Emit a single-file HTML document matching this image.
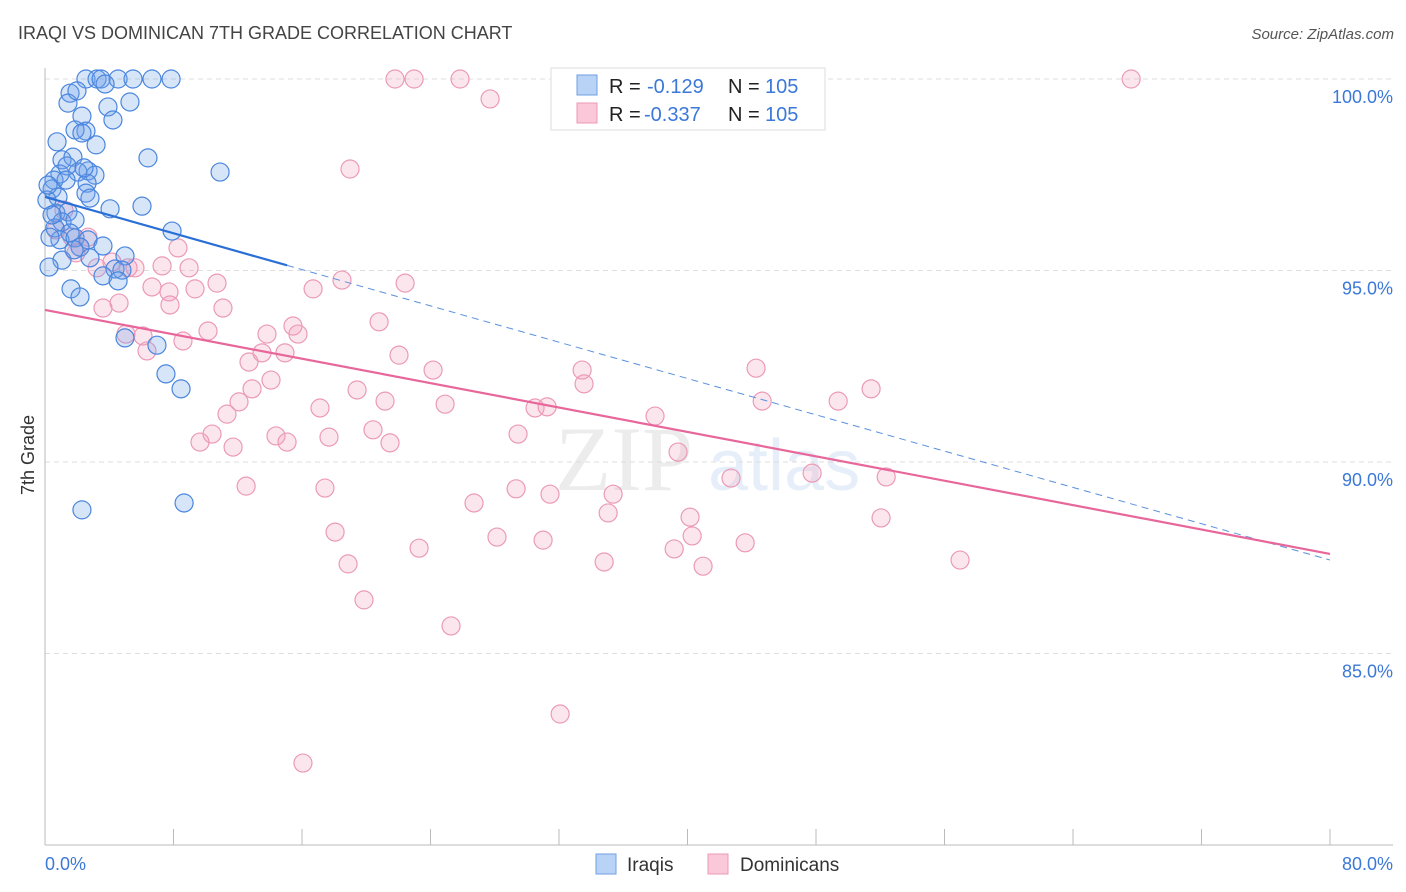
<!DOCTYPE html>
<html><head><meta charset="utf-8"><style>
body{margin:0;background:#fff;font-family:"Liberation Sans",sans-serif}
svg{display:block}
</style></head><body>
<svg id="chart" width="1406" height="892" xmlns="http://www.w3.org/2000/svg" font-family="Liberation Sans, sans-serif">
<text x="18" y="39" font-size="18" fill="#444">IRAQI VS DOMINICAN 7TH GRADE CORRELATION CHART</text>
<text x="1394" y="39" font-size="15" fill="#555" font-style="italic" text-anchor="end">Source: ZipAtlas.com</text>
<g opacity="0.18">
<text x="555" y="490" font-size="92" font-family="Liberation Serif, serif" fill="#999">ZIP</text>
<text x="708" y="490" font-size="72" fill="#7aa8e0">atlas</text>
</g>
<g id="grid"></g>
<g id="axes"></g>
<g id="pinkpts"></g>
<g id="bluepts"></g>
<g id="trends"></g>
<text transform="translate(34,455) rotate(-90)" font-size="18" fill="#333" text-anchor="middle">7th Grade</text>
<g>
<rect x="551" y="68" width="274" height="62" fill="#fff" stroke="#ddd"/>
<rect x="577" y="75" width="20" height="20" fill="#b9d3f7" stroke="#6f9fe0"/>
<rect x="577" y="103" width="20" height="20" fill="#fac8d8" stroke="#ec9ab6"/>
<text x="609" y="93" font-size="20" fill="#222">R = </text><text x="647" y="93" font-size="20" fill="#3b78d8">-0.129</text>
<text x="728" y="93" font-size="20" fill="#222">N = </text><text x="765" y="93" font-size="20" fill="#3b78d8">105</text>
<text x="609" y="121" font-size="20" fill="#222">R = </text><text x="644" y="121" font-size="20" fill="#3b78d8">-0.337</text>
<text x="728" y="121" font-size="20" fill="#222">N = </text><text x="765" y="121" font-size="20" fill="#3b78d8">105</text>
</g>
<g>
<rect x="596" y="854" width="20" height="20" fill="#b9d3f7" stroke="#6f9fe0"/>
<text x="627" y="871" font-size="19" fill="#333">Iraqis</text>
<rect x="708" y="854" width="20" height="20" fill="#fac8d8" stroke="#ec9ab6"/>
<text x="740" y="871" font-size="19" fill="#333">Dominicans</text>
</g>
</svg>
<script>
const yTicks=[100,95,90,85];
const yTickLabels=["100.0%","95.0%","90.0%","85.0%"];
const xTickLabels=["0.0%","80.0%"];
const iraqiX=[2.55,3.24,3.49,4.55,5.48,6.66,7.85,3.74,1.56,1.43,1.99,3.92,5.29,2.30,4.23,2.55,1.87,2.30,3.18,0.75,1.06,1.74,2.68,2.05,0.93,3.11,1.37,6.41,10.90,0.56,2.62,0.44,2.55,0.81,2.80,4.05,6.04,0.68,1.43,1.06,1.87,0.62,1.56,0.93,1.87,0.31,2.68,7.91,3.61,2.18,1.06,2.80,4.98,0.25,4.36,4.79,3.61,4.55,1.62,2.18,4.98,6.97,7.53,8.47,2.30,8.66,0.12,0.19,0.44,1.31,2.43,1.81];
const iraqiY=[100,100,100,100,100,100,100,99.87,99.63,99.37,99.69,99.27,99.40,99.03,98.93,98.64,98.67,98.59,98.28,98.36,97.89,97.96,97.60,97.57,97.52,97.49,97.73,97.94,97.57,97.36,97.28,97.13,97.02,96.92,96.89,96.61,96.68,96.50,96.53,96.27,96.32,96.11,95.98,95.80,95.85,95.87,95.80,96.03,95.64,95.61,95.27,95.33,95.38,95.09,95.04,95.01,94.86,94.73,94.52,94.31,93.24,93.05,92.30,91.91,88.75,88.93,96.84,97.23,96.45,97.36,97.68,95.54];
const domX=[21.79,22.98,25.84,32.50,67.62,27.71,18.99,1.18,0.68,1.68,2.68,2.18,1.93,8.28,3.24,5.60,7.29,8.97,4.17,5.17,10.71,6.66,7.72,9.34,16.69,18.49,22.42,4.61,3.61,7.78,11.08,5.04,6.10,10.15,13.82,15.44,15.75,6.35,8.59,13.51,14.94,20.80,22.04,12.70,14.07,12.89,24.16,33.44,33.56,44.27,19.43,21.17,24.91,51.43,17.12,30.51,31.26,44.65,49.38,12.08,11.33,10.40,9.65,11.71,14.38,15.07,17.68,20.42,21.48,29.45,37.98,39.41,42.71,47.76,52.37,12.52,17.43,26.71,29.33,31.44,35.37,35.06,40.16,52.05,18.06,23.29,28.14,31.01,39.17,40.29,43.59,18.87,34.81,40.97,56.97,19.86,25.28,32.07,16.06];
const domY=[100,100,100,100,100,99.48,97.65,96.58,96.06,95.87,95.87,95.61,95.46,95.59,95.07,95.07,95.12,95.07,95.22,95.07,94.67,94.57,94.44,94.52,94.52,94.75,94.67,94.15,94.02,94.10,94.02,93.34,93.29,93.42,93.34,93.55,93.34,92.90,93.16,92.85,92.85,93.66,92.79,92.61,92.14,91.91,92.40,92.40,92.04,92.45,91.88,91.59,91.51,91.91,91.41,91.41,91.44,91.59,91.59,91.57,91.25,90.73,90.52,90.39,90.68,90.52,90.65,90.84,90.50,90.73,91.20,90.26,89.58,89.71,89.61,89.37,89.32,88.93,89.30,89.16,89.16,88.67,88.56,88.54,88.17,87.75,88.04,87.96,87.73,88.07,87.89,87.34,87.39,87.28,87.44,86.40,85.72,83.42,82.14];
const iraqiTrend=[96.92,87.44]; // y at x=0 and x=80
const iraqiSolidEnd=[15.07];
const domTrend=[93.97,87.60];

const NS="http://www.w3.org/2000/svg";
const X0=45,X1=1330,Ytop=79,Ybot=845;
function sx(v){return X0+(v/80)*(X1-X0);}
function sy(v){return Ytop+(100-v)/20*(Ybot-Ytop);}
function mk(tag,attrs,parent){const e=document.createElementNS(NS,tag);for(const k in attrs)e.setAttribute(k,attrs[k]);parent.appendChild(e);return e;}
const grid=document.getElementById('grid'),axes=document.getElementById('axes');
yTicks.forEach((t,i)=>{
  const l=mk('line',{x1:X0,x2:1393,y1:sy(t),y2:sy(t),stroke:'#ddd','stroke-dasharray':'5,4'},grid);
  
  
  const tx=mk('text',{x:1393,y:sy(t)+24,'font-size':18,fill:'#3b78d8','text-anchor':'end'},axes);
  tx.textContent=yTickLabels[i];
  
  
});
mk('line',{x1:X0,x2:X0,y1:68,y2:Ybot,stroke:'#bbb'},axes);
mk('line',{x1:X0,x2:1393,y1:Ybot,y2:Ybot,stroke:'#bbb'},axes);
for(let i=0;i<=10;i++){const x=sx(i*8);mk('line',{x1:x,x2:x,y1:829,y2:Ybot,stroke:'#bbb'},axes);}
const xl0=mk('text',{x:45,y:870,'font-size':18,fill:'#3b78d8'},axes);xl0.textContent=xTickLabels[0];


const xl1=mk('text',{x:1393,y:870,'font-size':18,fill:'#3b78d8','text-anchor':'end'},axes);xl1.textContent=xTickLabels[1];


const pg=document.getElementById('pinkpts'),bg=document.getElementById('bluepts');
domX.forEach((x,i)=>{const c=mk('circle',{cx:sx(x),cy:sy(domY[i]),r:9,fill:'rgba(244,160,190,0.26)',stroke:'#eb9ab7','stroke-width':1.2},pg);
  
  });
iraqiX.forEach((x,i)=>{const c=mk('circle',{cx:sx(x),cy:sy(iraqiY[i]),r:9,fill:'rgba(110,160,235,0.28)',stroke:'#4a86de','stroke-width':1.2},bg);
  
  });
const tg=document.getElementById('trends');
function ty(tr,x){return tr[0]+(tr[1]-tr[0])*x/80;}
const bs=mk('line',{x1:sx(0),y1:sy(ty(iraqiTrend,0)),x2:sx(iraqiSolidEnd[0]),y2:sy(ty(iraqiTrend,iraqiSolidEnd[0])),stroke:'#2a6fd6','stroke-width':2.2},tg);


const bd=mk('line',{x1:sx(iraqiSolidEnd[0]),y1:sy(ty(iraqiTrend,iraqiSolidEnd[0])),x2:sx(80),y2:sy(ty(iraqiTrend,80)),stroke:'#5a90de','stroke-width':1,'stroke-dasharray':'7,5'},tg);


const pl=mk('line',{x1:sx(0),y1:sy(ty(domTrend,0)),x2:sx(80),y2:sy(ty(domTrend,80)),stroke:'#e8679a','stroke-width':2.2},tg);


</script>
</body></html>
